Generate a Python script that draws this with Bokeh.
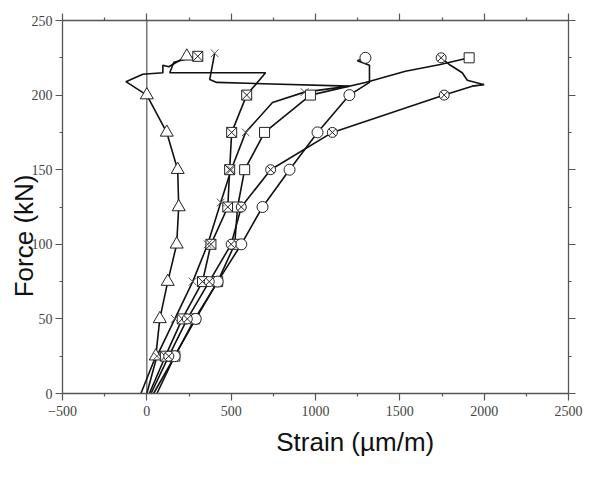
from bokeh.plotting import figure
from bokeh.models import Range1d, LinearAxis, FixedTicker, Span, CustomJSTickFormatter
from bokeh.embed import file_html
from bokeh.resources import INLINE

# ---- axis ticks and labels ----
x_major = [-500, 0, 500, 1000, 1500, 2000, 2500]
x_minor = [-250, 250, 750, 1250, 1750, 2250]
y_major = [0, 50, 100, 150, 200, 250]
y_minor = [25, 75, 125, 175, 225]
x_title = "Strain (µm/m)"
y_title = "Force (kN)"

# ---- series (strain in um/m, force in kN) ----
# triangle gauge
tri_strain = [-35, 53, 77, 124, 177, 189, 183, 118, 0, -124, -24, 95, 95, 130, 237]
tri_force = [0, 25, 50, 75, 100, 125, 150, 175, 200, 209, 214, 215, 220, 219, 226]
tri_mk_strain = [53, 77, 124, 177, 189, 183, 118, 0, 237]
tri_mk_force = [25, 50, 75, 100, 125, 150, 175, 200, 226]

# boxed-x gauge
bx_strain = [15, 110, 210, 330, 380, 480, 491, 503, 592, 704, 136, 160, 302]
bx_force = [0, 25, 50, 75, 100, 125, 150, 175, 200, 215, 215, 222, 226]
bx_mk_strain = [110, 210, 330, 380, 480, 491, 503, 592, 302]
bx_mk_force = [25, 50, 75, 100, 125, 150, 175, 200, 226]

# cross gauge
cx_strain = [0, 60, 166, 272, 361, 438, 500, 586, 745, 935, 1200, 414, 373, 402]
cx_force = [0, 25, 50, 75, 100, 128, 150, 175, 195, 202, 206, 208.5, 210.5, 228]
cx_mk_strain = [60, 166, 272, 361, 438, 500, 586, 935, 402]
cx_mk_force = [25, 50, 75, 100, 128, 150, 175, 202, 228]

# square gauge
sq_strain = [40, 166, 284, 420, 521, 538, 580, 698, 970, 1296, 1533, 1740, 1911]
sq_force = [0, 25, 50, 75, 100, 125, 150, 175, 200, 208.5, 216, 220.5, 225]
sq_mk_strain = [166, 284, 420, 521, 538, 580, 698, 970, 1911]
sq_mk_force = [25, 50, 75, 100, 125, 150, 175, 200, 225]

# circle gauge
ci_strain = [60, 165, 290, 420, 560, 686, 846, 1012, 1201, 1320, 1320, 1248, 1296]
ci_force = [0, 25, 50, 75, 100, 125, 150, 175, 200, 208.5, 220, 223, 225]
ci_mk_strain = [165, 290, 420, 560, 686, 846, 1012, 1201, 1296]
ci_mk_force = [25, 50, 75, 100, 125, 150, 175, 200, 225]

# circled-x gauge
ox_strain = [25, 130, 240, 370, 500, 560, 734, 1100, 1763, 1929, 2000, 1900, 1870, 1800, 1745]
ox_force = [0, 25, 50, 75, 100, 125, 150, 175, 200, 206, 207, 210, 215, 220, 225]
ox_mk_strain = [130, 240, 370, 500, 560, 734, 1100, 1763, 1745]
ox_mk_force = [25, 50, 75, 100, 125, 150, 175, 200, 225]

p = figure(width=586, height=463, output_backend="svg", toolbar_location=None,
           x_range=Range1d(-500, 2500), y_range=Range1d(0, 250),
           min_border_left=62, min_border_right=18, min_border_top=20, min_border_bottom=70)
p.grid.visible = False
p.outline_line_color = None

def style(ax, ticker, labels=True):
    ax.ticker = ticker
    ax.axis_line_color = "#555555"
    ax.axis_line_width = 1.3
    ax.major_tick_line_color = "#555555"
    ax.minor_tick_line_color = "#555555"
    ax.major_tick_line_width = 1.2
    ax.minor_tick_line_width = 1.2
    ax.major_tick_out = 7
    ax.major_tick_in = 0
    ax.minor_tick_out = 3
    ax.minor_tick_in = 0
    ax.major_label_text_font = "Liberation Serif"
    ax.major_label_text_color = "#444444"
    ax.axis_label_text_font = "Liberation Sans"
    ax.axis_label_text_font_style = "normal"
    ax.axis_label_text_font_size = "26px"
    ax.axis_label_text_color = "#111111"
    if labels:
        ax.major_label_text_font_size = "14px"
        ax.major_label_standoff = 5
    else:
        ax.formatter = CustomJSTickFormatter(code="return ''")
        ax.major_label_text_font_size = "0px"
        ax.major_label_standoff = 0

nb = "\u00a0"
style(p.xaxis[0], FixedTicker(ticks=x_major, minor_ticks=x_minor))
p.xaxis[0].axis_label = nb * 11 + x_title
p.xaxis[0].axis_label_standoff = 8
style(p.yaxis[0], FixedTicker(ticks=y_major, minor_ticks=y_minor))
p.yaxis[0].major_label_standoff = 3
p.yaxis[0].axis_label = y_title + nb * 8
p.yaxis[0].axis_label_standoff = -10

top = LinearAxis()
style(top, FixedTicker(ticks=x_major, minor_ticks=x_minor), labels=False)
p.add_layout(top, "above")
right = LinearAxis()
style(right, FixedTicker(ticks=y_major, minor_ticks=y_minor), labels=False)
p.add_layout(right, "right")

p.add_layout(Span(location=0, dimension="height", line_color="#555555", line_width=1.2, level="underlay"))

series = [
    (tri_strain, tri_force, tri_mk_strain, tri_mk_force, "triangle", 13),
    (bx_strain, bx_force, bx_mk_strain, bx_mk_force, "square_x", 10),
    (cx_strain, cx_force, cx_mk_strain, cx_mk_force, "x", 11),
    (sq_strain, sq_force, sq_mk_strain, sq_mk_force, "square", 10),
    (ci_strain, ci_force, ci_mk_strain, ci_mk_force, "circle", 11),
    (ox_strain, ox_force, ox_mk_strain, ox_mk_force, "circle_x", 10),
]
for xs, ys, mx, my, mk, sz in series:
    p.line(xs, ys, line_color="#111111", line_width=1.6)
for xs, ys, mx, my, mk, sz in series:
    col = "#555555" if mk == "x" else "#222222"
    p.scatter(mx, my, marker=mk, size=sz, fill_color="white", line_color=col, line_width=1)

open("out.html", "w").write(file_html(p, INLINE))
